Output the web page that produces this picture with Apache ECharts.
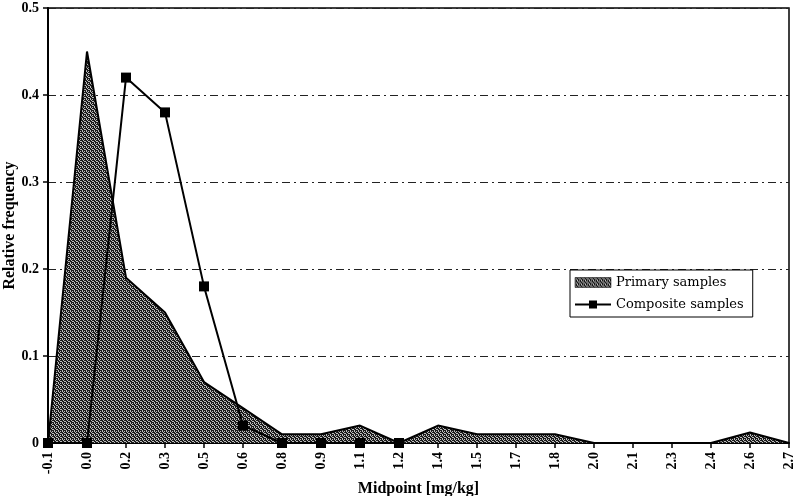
<!DOCTYPE html>
<html>
<head>
<meta charset="utf-8">
<script src="https://cdn.jsdelivr.net/npm/echarts@6/dist/echarts.min.js"></script>
<style>html,body{margin:0;padding:0;background:#fff}#c{width:796px;height:496px}</style>
</head>
<body>
<div id="c"></div>
<script>
const categories = ['-0.1','0.0','0.2','0.3','0.5','0.6','0.8','0.9','1.1','1.2','1.4','1.5','1.7','1.8','2.0','2.1','2.3','2.4','2.6','2.7'];
const primarySamples = [0, 0.45, 0.19, 0.15, 0.07, 0.04, 0.01, 0.01, 0.02, 0.0, 0.02, 0.01, 0.01, 0.01, 0, 0, 0, 0, 0.012, 0];
const compositeSamples = [0, 0, 0.42, 0.38, 0.18, 0.02, 0, 0, 0, 0, null, null, null, null, null, null, null, null, null, null];
const yTicks = [0, 0.1, 0.2, 0.3, 0.4, 0.5];

// stipple pattern
const pc = document.createElement('canvas');
pc.width = 4; pc.height = 4;
const pctx = pc.getContext('2d');
pctx.fillStyle = '#bdbdbd'; pctx.fillRect(0,0,4,4);
pctx.fillStyle = '#1a1a1a';
[[0,0],[2,1],[1,2],[3,3],[2,0],[0,2],[3,1],[1,3],[1,0],[3,2]].forEach(p=>pctx.fillRect(p[0],p[1],1,1));
const pattern = {image: pc, repeat: 'repeat'};

const font = 'Liberation Serif';
const chart = echarts.init(document.getElementById('c'), null, {renderer: 'canvas'});
chart.setOption({
  animation: false,
  backgroundColor: '#fff',
  grid: {left: 48, right: 7, top: 8, bottom: 53, outerBoundsMode: 'none', containLabel: false,
    show: true, borderColor: '#000', borderWidth: 1.5, backgroundColor: 'transparent'},
  legend: {
    orient: 'vertical', left: 570, top: 270,
    backgroundColor: '#fff', borderColor: '#000', borderWidth: 1,
    padding: [6, 9, 6, 4], itemGap: 9, itemWidth: 36, itemHeight: 10,
    textStyle: {fontFamily: 'DejaVu Serif', fontSize: 13, color: '#000'},
    data: [
      {name: 'Primary samples', icon: 'rect', itemStyle: {color: pattern, borderColor: '#000', borderWidth: 0.5}},
      {name: 'Composite samples'}
    ]
  },
  xAxis: {
    type: 'category', data: categories, boundaryGap: false,
    name: 'Midpoint [mg/kg]', nameLocation: 'middle', nameGap: 38, nameMoveOverlap: false,
    nameTextStyle: {fontFamily: font, fontSize: 16, fontWeight: 'bold', color: '#000'},
    axisLine: {lineStyle: {color: '#000', width: 2}},
    axisTick: {show: true, alignWithLabel: true, length: 5, lineStyle: {color: '#000', width: 1.5}},
    axisLabel: {rotate: 90, interval: 0, fontFamily: font, fontSize: 14, fontWeight: 'bold', color: '#000', margin: 9},
    splitLine: {show: false}
  },
  yAxis: {
    type: 'value', min: 0, max: 0.5, interval: 0.1,
    name: 'Relative frequency', nameLocation: 'middle', nameGap: 30, nameMoveOverlap: false,
    nameTextStyle: {fontFamily: font, fontSize: 16, fontWeight: 'bold', color: '#000'},
    axisLine: {show: true, lineStyle: {color: '#000', width: 2}},
    axisTick: {show: true, length: 5, lineStyle: {color: '#000', width: 1.5}},
    axisLabel: {fontFamily: font, fontSize: 14, fontWeight: 'bold', color: '#000', margin: 9,
      formatter: v => { const t = yTicks.find(x => Math.abs(x - v) < 1e-9); return t === 0 ? '0' : (t !== undefined ? t.toFixed(1) : ''); }},
    splitLine: {show: true, lineStyle: {color: '#222', width: 1, type: [8, 4, 2, 4]}}
  },
  series: [
    {
      name: 'Primary samples', type: 'line', data: primarySamples,
      symbol: 'none', z: 2,
      lineStyle: {color: '#000', width: 2},
      itemStyle: {color: pattern},
      areaStyle: {color: pattern, opacity: 1}
    },
    {
      name: 'Composite samples', type: 'line', data: compositeSamples,
      symbol: 'rect', symbolSize: 10, z: 3,
      lineStyle: {color: '#000', width: 2},
      itemStyle: {color: '#000'}
    }
  ]
});
</script>
</body>
</html>
